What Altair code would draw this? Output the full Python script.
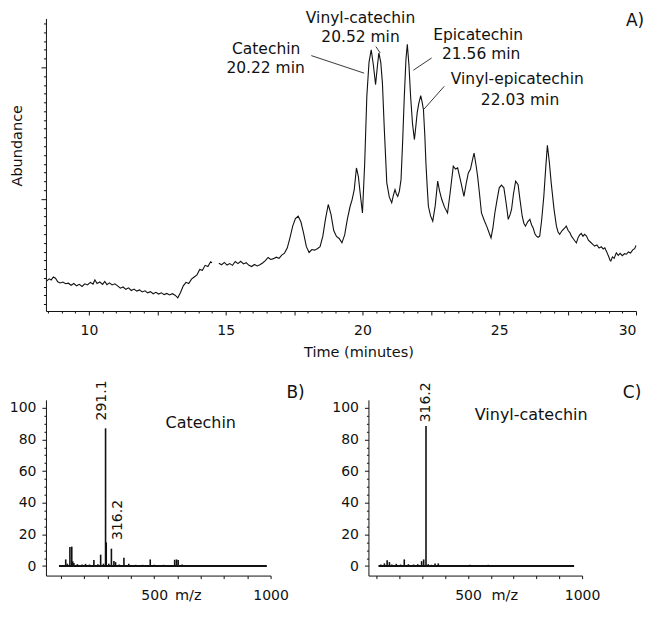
import altair as alt
import pandas as pd

FONT = "DejaVu Sans"
INK = "#111111"

# ---------------- Panel A: chromatogram ----------------
time_min = [8.45, 8.55, 8.62, 8.70, 8.78, 8.86, 8.95, 9.05, 9.15, 9.25,
            9.35, 9.45, 9.55, 9.65, 9.75, 9.85, 9.95, 10.05, 10.15, 10.22,
            10.30, 10.40, 10.50, 10.58, 10.66, 10.75, 10.85, 10.95, 11.05, 11.15,
            11.25, 11.35, 11.45, 11.55, 11.65, 11.75, 11.85, 11.95, 12.05, 12.15,
            12.25, 12.35, 12.45, 12.55, 12.65, 12.75, 12.85, 12.95, 13.05, 13.15,
            13.25, 13.35, 13.45, 13.55, 13.65, 13.75, 13.85, 13.95, 14.05, 14.15,
            14.25, 14.35, 14.45, 14.50, 14.75, 14.85, 14.95, 15.05, 15.15, 15.25,
            15.35, 15.45, 15.55, 15.65, 15.75, 15.85, 15.95, 16.05, 16.15, 16.25,
            16.35, 16.45, 16.55, 16.65, 16.75, 16.85, 16.95, 17.05, 17.15, 17.25,
            17.35, 17.45, 17.55, 17.65, 17.75, 17.85, 17.95, 18.05, 18.15, 18.25,
            18.35, 18.45, 18.55, 18.65, 18.75, 18.85, 18.95, 19.05, 19.15, 19.25,
            19.35, 19.45, 19.55, 19.62, 19.70, 19.78, 19.85, 19.92, 20.00, 20.08,
            20.16, 20.24, 20.32, 20.40, 20.48, 20.55, 20.60, 20.67, 20.73, 20.80,
            20.89, 20.98, 21.07, 21.13, 21.19, 21.24, 21.29, 21.35, 21.41, 21.47,
            21.53, 21.59, 21.64, 21.70, 21.76, 21.83, 21.90, 21.95, 22.00, 22.06,
            22.13, 22.18, 22.23, 22.28, 22.32, 22.37, 22.41, 22.49, 22.57, 22.66,
            22.75, 22.82, 22.90, 23.00, 23.11, 23.20, 23.32, 23.40, 23.48, 23.60,
            23.71, 23.80, 23.87, 23.95, 24.03, 24.08, 24.15, 24.21, 24.28, 24.35,
            24.45, 24.54, 24.62, 24.70, 24.77, 24.84, 24.92, 25.00, 25.08, 25.17,
            25.25, 25.33, 25.40, 25.45, 25.52, 25.60, 25.69, 25.76, 25.84, 25.90,
            25.96, 26.04, 26.12, 26.18, 26.24, 26.30, 26.36, 26.42, 26.48, 26.55,
            26.63, 26.70, 26.76, 26.83, 26.90, 27.00, 27.09, 27.15, 27.21, 27.30,
            27.38, 27.45, 27.52, 27.58, 27.64, 27.70, 27.76, 27.82, 27.88, 27.94,
            28.00, 28.06, 28.12, 28.19, 28.26, 28.34, 28.42, 28.49, 28.57, 28.65,
            28.73, 28.80, 28.86, 28.93, 29.00, 29.05, 29.08, 29.14, 29.20, 29.28,
            29.35, 29.42, 29.50, 29.58, 29.65, 29.72, 29.80, 29.88, 29.95, 30.00]
abundance = [10.2, 11.0, 10.6, 11.6, 11.2, 10.0, 9.6, 9.9, 9.3, 9.5,
             8.8, 9.4, 8.6, 9.1, 8.4, 9.3, 8.9, 9.8, 9.2, 10.6,
             9.4, 9.9, 9.1, 10.1, 9.0, 9.6, 8.9, 9.3, 8.6, 7.8,
             8.2, 7.4, 7.9, 7.0, 7.5, 6.8, 7.2, 6.5, 6.9, 6.2,
             6.6, 5.9, 6.4, 5.8, 6.2, 5.6, 6.0, 5.5, 5.9, 5.4,
             4.5, 6.3, 8.6, 9.8, 9.4, 10.9, 11.6, 12.3, 14.2, 13.9,
             15.6, 15.2, 16.8, 16.5, 16.3, 15.8, 16.6, 15.7, 16.2, 15.6,
             16.9, 16.2, 17.0, 16.1, 16.5, 15.6, 15.2, 15.9, 15.4, 15.8,
             16.4, 17.2, 18.3, 17.6, 17.9, 18.4, 18.0, 19.1, 19.8, 21.5,
             25.0, 29.0, 31.6, 32.4, 30.5, 26.5, 22.0, 20.0, 21.0, 20.8,
             21.3, 22.0, 25.5, 31.5, 36.4, 33.0, 27.5, 25.5, 24.8, 23.3,
             26.0, 31.5, 35.8, 38.0, 41.5, 48.9, 46.0, 40.0, 33.5, 50.0,
             73.4, 85.0, 89.3, 84.0, 77.4, 84.0, 88.2, 85.0, 77.9, 62.0,
             43.8, 39.0, 37.0, 39.5, 41.5, 40.0, 39.2, 41.0, 44.9, 58.0,
             73.4, 86.0, 91.2, 84.0, 73.4, 64.0, 58.6, 63.0, 67.7, 71.0,
             73.6, 71.5, 68.8, 60.0, 50.6, 42.0, 35.8, 32.5, 30.7, 36.0,
             44.4, 41.0, 38.1, 35.5, 33.5, 40.0, 49.5, 48.5, 48.9, 44.0,
             39.2, 44.0, 47.2, 48.5, 52.0, 54.0, 50.0, 46.0, 40.0, 33.5,
             31.0, 29.0, 27.0, 25.0, 28.5, 33.5, 38.0, 42.1, 43.0, 42.1,
             37.0, 31.3, 33.0, 34.7, 40.0, 44.4, 43.2, 38.0, 32.4, 30.0,
             29.0, 30.5, 31.3, 29.5, 28.4, 26.5, 25.6, 25.2, 25.6, 31.0,
             39.2, 49.0, 56.6, 51.0, 43.8, 35.0, 29.0, 27.0, 26.2, 27.5,
             28.2, 29.0, 27.5, 26.8, 25.6, 24.8, 24.0, 23.3, 25.0, 26.0,
             26.5, 25.5, 26.2, 25.6, 24.2, 23.5, 22.8, 22.2, 22.6, 21.5,
             22.0, 21.2, 21.6, 20.2, 18.6, 17.4, 17.1, 18.5, 18.0, 19.9,
             19.0, 19.7, 18.9, 19.6, 19.4, 20.2, 19.8, 20.9, 21.3, 22.4]
assert len(time_min) == len(abundance)

# peak annotations (text placed in data units of panel A)
peak_names = ["Catechin", "Vinyl-catechin", "Epicatechin", "Vinyl-epicatechin"]
peak_rt = ["20.22 min", "20.52 min", "21.56 min", "22.03 min"]
name_t = [16.48, 19.93, 24.23, 25.66]
name_a = [89.6, 100.0, 94.2, 79.4]
rt_t = [16.46, 19.93, 24.34, 25.76]
rt_a = [83.0, 93.7, 87.8, 72.0]
# leader lines: label end -> peak end
lead_t1 = [18.13, 20.49, 22.53, 22.99]
lead_a1 = [87.3, 90.4, 86.5, 76.8]
lead_t2 = [20.06, 20.65, 21.86, 22.23]
lead_a2 = [81.3, 88.2, 82.3, 68.8]

# ---------------- Panel B: catechin mass spectrum ----------------
mz_b = [120, 127, 138, 146, 150, 155, 170, 190, 205, 222,
        241, 258, 270, 282, 291.1, 294, 305, 316.2, 327, 334,
        350, 370, 391, 420, 450, 483, 500, 540, 588, 596,
        603, 620, 660, 700, 760, 810, 860, 900, 940, 970]
int_b = [4.2, 1.5, 12.0, 12.3, 3.0, 2.0, 1.2, 1.0, 1.4, 1.0,
         3.8, 1.2, 7.2, 1.5, 87.0, 15.0, 1.5, 11.0, 3.2, 2.5,
         1.0, 5.3, 1.5, 0.8, 0.8, 4.2, 0.8, 0.8, 4.0, 4.2,
         3.8, 1.0, 0.6, 0.6, 0.6, 0.6, 0.6, 0.6, 0.6, 0.6]
base_b = [91, 984]

# ---------------- Panel C: vinyl-catechin mass spectrum ----------------
mz_c = [118, 134, 146, 156, 166, 186, 205, 221, 239, 262,
        280, 297, 306, 316.2, 326, 340, 356, 370, 420, 470,
        509, 560, 589, 640, 684, 706, 760, 837, 858, 920]
int_c = [1.0, 1.7, 3.7, 2.5, 1.0, 1.4, 1.0, 4.2, 1.2, 1.0,
         1.2, 3.1, 4.2, 88.5, 1.2, 0.8, 1.7, 1.7, 0.6, 0.6,
         0.8, 0.6, 0.8, 0.6, 0.6, 0.6, 0.6, 0.6, 0.6, 0.6]
base_c = [108, 965]

# ================= build panel A =================
dfA = pd.DataFrame({"t": time_min, "a": abundance})
dfA["seg"] = (dfA["t"] > 14.6).astype(int)

xA_scale = alt.Scale(domain=[8.43, 30], nice=False, zero=False)
yA_scale = alt.Scale(domain=[0, 100], nice=False, zero=False)
xA_ticks = [8.5 + 0.5 * i for i in range(44)]
yA_ticks = [round(2.3 + 3 * k, 1) for k in range(33)]

xA_axis = alt.Axis(values=xA_ticks,
                   labelExpr="datum.value % 5 === 0 ? format(datum.value, 'd') : ''",
                   tickSize={"condition": {"test": "datum.value % 2.5 === 0", "value": 4}, "value": 2},
                   labelFlush=True, labelOverlap=False, labelPadding=9,
                   title="Time (minutes)", titlePadding=8, titleX=313)
yA_axis = alt.Axis(values=yA_ticks, labels=False, labelFlush=False,
                   tickSize={"condition": {"test": "abs(datum.value - 38.3) < 0.05 || abs(datum.value - 83.3) < 0.05",
                                           "value": 5}, "value": 2.5},
                   title="Abundance", titlePadding=16, titleY=127)

lineA = alt.Chart(dfA).mark_line(color=INK, strokeWidth=1.1).encode(
    x=alt.X("t:Q", scale=xA_scale, axis=xA_axis),
    y=alt.Y("a:Q", scale=yA_scale, axis=yA_axis),
    detail="seg:N")

dfLead = pd.DataFrame({"t1": lead_t1, "a1": lead_a1, "t2": lead_t2, "a2": lead_a2})
leadA = alt.Chart(dfLead).mark_rule(color="#222222", strokeWidth=0.9).encode(
    x=alt.X("t1:Q", scale=xA_scale, axis=xA_axis), x2="t2:Q",
    y=alt.Y("a1:Q", scale=yA_scale, axis=yA_axis), y2="a2:Q")

dfAnn = pd.DataFrame({"label": peak_names + peak_rt,
                      "t": name_t + rt_t,
                      "a": name_a + rt_a})
textA = alt.Chart(dfAnn).mark_text(font=FONT, fontSize=15.5, color=INK, align="center",
                                   baseline="middle").encode(
    x=alt.X("t:Q", scale=xA_scale, axis=xA_axis),
    y=alt.Y("a:Q", scale=yA_scale, axis=yA_axis),
    text="label:N")

letterA = alt.Chart(pd.DataFrame({"label": ["A)"]})).mark_text(
    font=FONT, fontSize=17, color=INK, align="center", baseline="middle").encode(
    x=alt.value(590), y=alt.value(3), text="label:N")

panelA = alt.layer(lineA, leadA, textA, letterA).properties(width=591, height=293)


# ================= spectra =================
def spectrum(mz, inten, base, dom, width, title_x, labels, name, name_pos, letter, letter_px):
    xs = alt.Scale(domain=dom, nice=False, zero=False)
    ys = alt.Scale(domain=[-6, 105], nice=False, zero=False)
    xax = alt.Axis(values=list(range(100, 1001, 100)),
                   labelExpr="datum.value % 500 === 0 ? format(datum.value, 'd') : ''",
                   tickSize=3, labelPadding=10, labelOverlap=False, labelFlush=False,
                   title="m/z", titleX=title_x, titleY=20, titleBaseline="middle")
    yax = alt.Axis(values=list(range(0, 101, 5)),
                   labelExpr="datum.value % 20 === 0 ? format(datum.value, 'd') : ''",
                   tickSize={"condition": {"test": "datum.value % 20 === 0", "value": 4}, "value": 2},
                   labelPadding=6, labelOverlap=False, labelFlush=False, title="")
    df = pd.DataFrame({"mz": mz, "i": inten})
    peaks = alt.Chart(df).mark_rule(color=INK, strokeWidth=1.6).encode(
        x=alt.X("mz:Q", scale=xs, axis=xax),
        y=alt.Y("i:Q", scale=ys, axis=yax),
        y2=alt.datum(0))
    dfb = pd.DataFrame({"x0": [base[0]], "x1": [base[1]], "z": [0]})
    baseline = alt.Chart(dfb).mark_rule(color=INK, strokeWidth=2).encode(
        x=alt.X("x0:Q", scale=xs, axis=xax), x2="x1:Q",
        y=alt.Y("z:Q", scale=ys, axis=yax))
    layers = [peaks, baseline]
    for (lab, lx, ly, bl) in labels:
        dfl = pd.DataFrame({"label": [lab], "x": [lx], "y": [ly]})
        layers.append(alt.Chart(dfl).mark_text(font=FONT, fontSize=14, color=INK, angle=270,
                                               align="left", baseline=bl).encode(
            x=alt.X("x:Q", scale=xs, axis=xax), y=alt.Y("y:Q", scale=ys, axis=yax), text="label:N"))
    dfn = pd.DataFrame({"label": [name], "x": [name_pos[0]], "y": [name_pos[1]]})
    layers.append(alt.Chart(dfn).mark_text(font=FONT, fontSize=16, color=INK, align="center",
                                           baseline="middle").encode(
        x=alt.X("x:Q", scale=xs, axis=xax), y=alt.Y("y:Q", scale=ys, axis=yax), text="label:N"))
    layers.append(alt.Chart(pd.DataFrame({"label": [letter]})).mark_text(
        font=FONT, fontSize=17, color=INK, align="center", baseline="middle").encode(
        x=alt.value(letter_px[0]), y=alt.value(letter_px[1]), text="label:N"))
    return alt.layer(*layers).properties(width=width, height=176)


panelB = spectrum(mz_b, int_b, base_b, [35, 1000], 225, 142,
                  [("291.1", 291.1, 92, "alphabetic"), ("316.2", 316.2, 16.5, "top")],
                  "Catechin", (700, 90.1), "B)", (250, -7))
panelC = spectrum(mz_c, int_c, base_c, [64, 1000], 214, 136,
                  [("316.2", 316.2, 90.8, "middle")],
                  "Vinyl-catechin", (777, 95.2), "C)", (264, -7))

bottom = alt.hconcat(panelB, panelC, spacing=98, bounds="flush")

chart = alt.vconcat(panelA, bottom, spacing=89, bounds="flush").properties(
    padding={"left": 1, "top": 3, "right": 0, "bottom": 0},
    background="white"
).configure_view(stroke=None).configure_axis(
    grid=False, domainColor=INK, tickColor=INK, labelColor=INK, titleColor=INK,
    labelFont=FONT, titleFont=FONT, labelFontSize=14, titleFontSize=14.5,
    titleFontWeight="normal", domainWidth=1, tickWidth=1
)

chart.save("out.html", embed_options={"renderer": "svg", "actions": False})
